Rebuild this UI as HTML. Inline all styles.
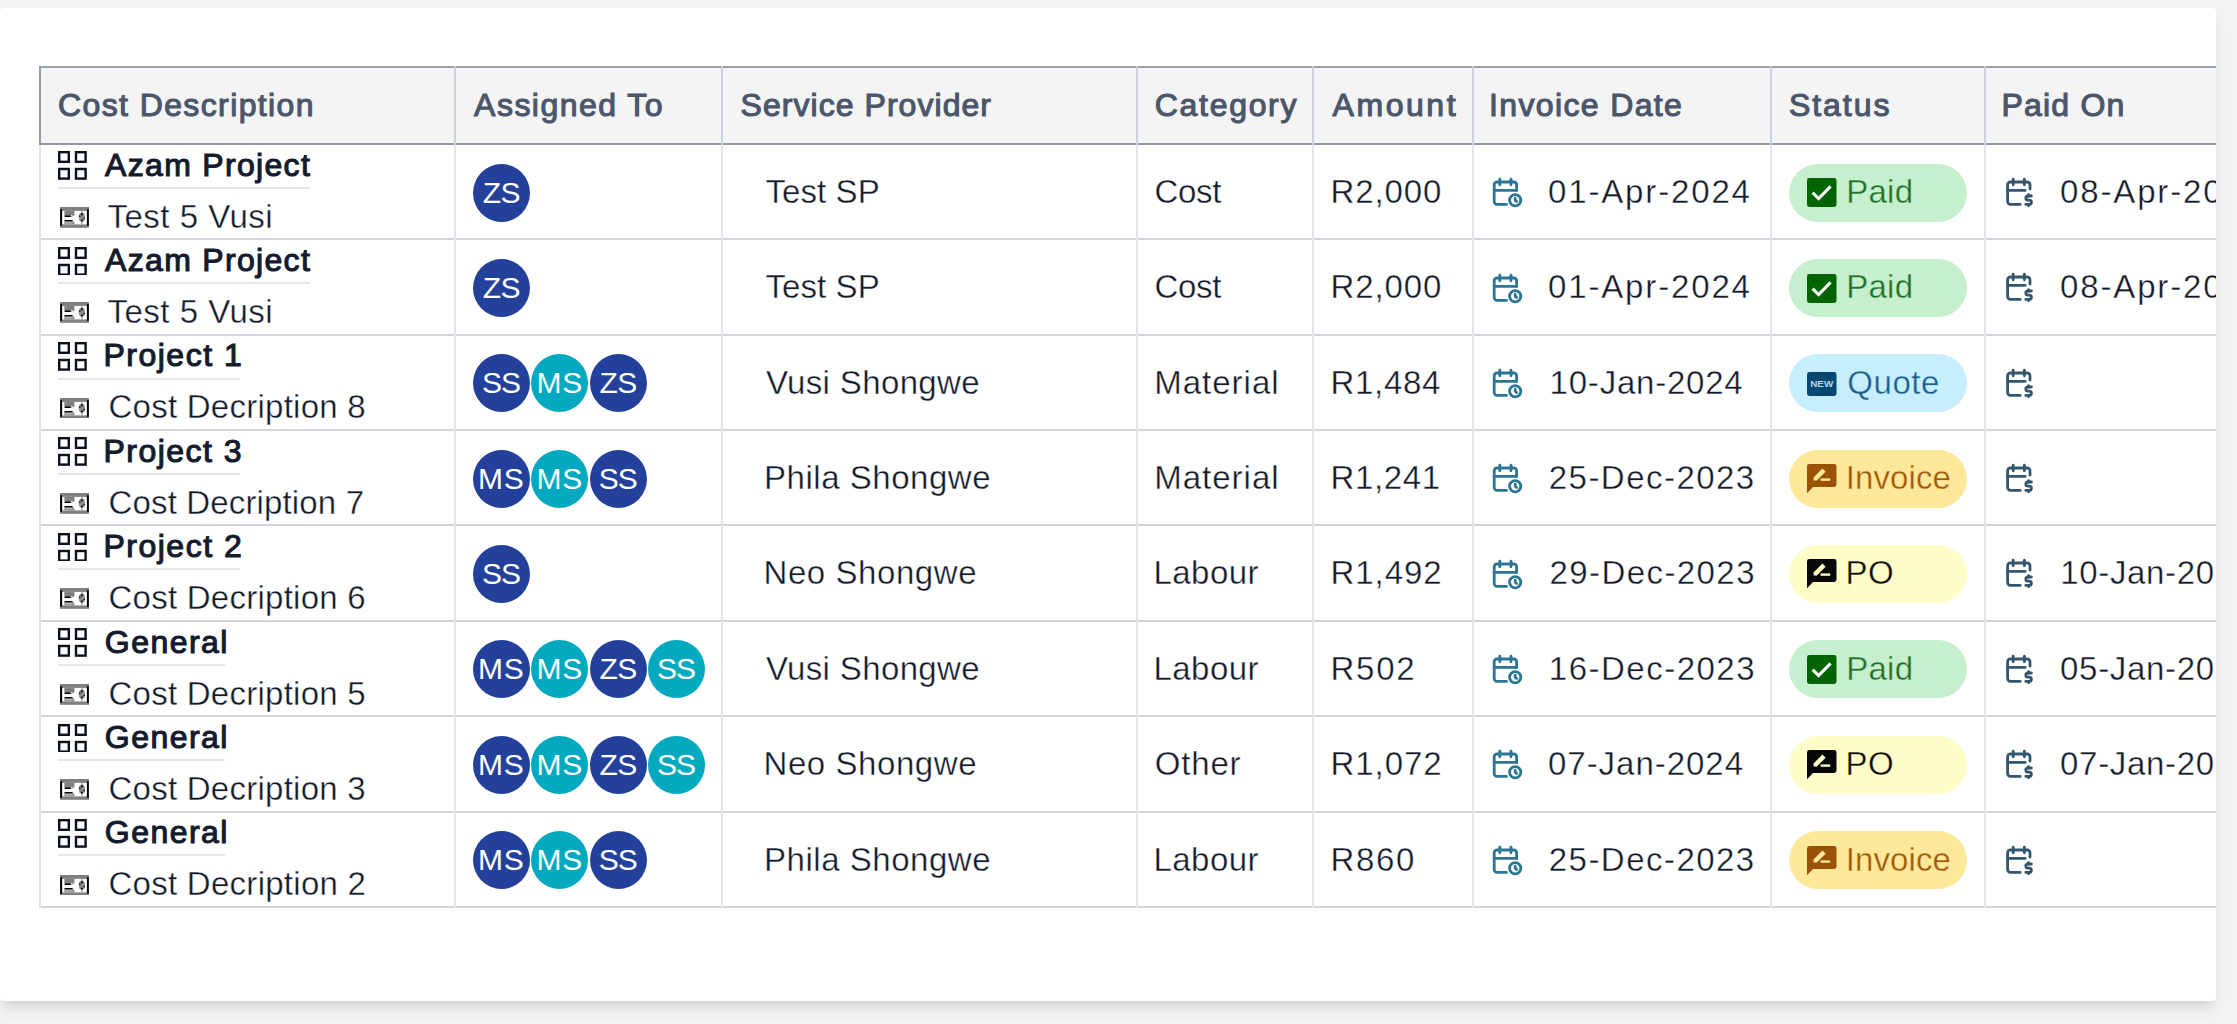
<!DOCTYPE html>
<html lang="en"><head><meta charset="utf-8"><title>Costs</title>
<style>
*{box-sizing:border-box}
html,body{margin:0;padding:0}
body{width:2237px;height:1024px;overflow:hidden;background:#f3f4f6;font-family:"Liberation Sans",sans-serif;position:relative}
.card{position:absolute;left:0;top:8px;width:2216px;height:993px;background:#fff;border-radius:4px;box-shadow:0 9.6px 14.4px -2.4px rgba(0,0,0,.1),0 4.8px 9.6px -4.8px rgba(0,0,0,.1);overflow:hidden}
.card>div,.card>span,.card>svg{position:absolute}
.hbg{left:39px;top:58px;width:2200px;height:79px;background:#f4f4f4}
.hl{left:39px;width:2200px;height:2px}
.vl{width:2px}
.t{white-space:pre;line-height:40px;font-size:33px;color:#131a2b;-webkit-text-stroke:0.35px #fff}
.th{font-size:32px;color:#4b566b;-webkit-text-stroke:1.1px #4b566b}
.tp{font-size:32px;color:#141b2d;-webkit-text-stroke:1.1px #141b2d}
.ul{height:2px;background:#e4e6eb}
.av{width:57px;height:58px;border-radius:50%}
.ta{font-size:30px;color:#fff;-webkit-text-stroke:0}
.pill{width:178px;height:58px;border-radius:29px}
</style></head><body>
<div class="card">

<div class="hbg" style="top:58px;height:79px"></div>
<div class="hl" style="top:58px;background:#99a1b1"></div>
<div class="hl" style="top:135px;background:#929aaa"></div>
<div class="hl" style="top:230px;background:#d2d5dd"></div>
<div class="hl" style="top:326px;background:#d2d5dd"></div>
<div class="hl" style="top:421px;background:#d2d5dd"></div>
<div class="hl" style="top:516px;background:#d2d5dd"></div>
<div class="hl" style="top:612px;background:#d2d5dd"></div>
<div class="hl" style="top:707px;background:#d2d5dd"></div>
<div class="hl" style="top:803px;background:#d2d5dd"></div>
<div class="hl" style="top:898px;background:#d2d5dd"></div>
<div class="vl" style="left:39px;top:58px;height:79px;background:#939bab"></div>
<div class="vl" style="left:39px;top:137px;height:763px;background:#e0e3e8"></div>
<div class="vl" style="left:454px;top:58px;height:79px;background:#ced2dc"></div>
<div class="vl" style="left:454px;top:137px;height:763px;background:#e3e5ea"></div>
<div class="vl" style="left:721px;top:58px;height:79px;background:#ced2dc"></div>
<div class="vl" style="left:721px;top:137px;height:763px;background:#e3e5ea"></div>
<div class="vl" style="left:1136px;top:58px;height:79px;background:#ced2dc"></div>
<div class="vl" style="left:1136px;top:137px;height:763px;background:#e3e5ea"></div>
<div class="vl" style="left:1312px;top:58px;height:79px;background:#ced2dc"></div>
<div class="vl" style="left:1312px;top:137px;height:763px;background:#e3e5ea"></div>
<div class="vl" style="left:1472px;top:58px;height:79px;background:#ced2dc"></div>
<div class="vl" style="left:1472px;top:137px;height:763px;background:#e3e5ea"></div>
<div class="vl" style="left:1770px;top:58px;height:79px;background:#ced2dc"></div>
<div class="vl" style="left:1770px;top:137px;height:763px;background:#e3e5ea"></div>
<div class="vl" style="left:1984px;top:58px;height:79px;background:#ced2dc"></div>
<div class="vl" style="left:1984px;top:137px;height:763px;background:#e3e5ea"></div>
<span class="t th" style="left:58.0px;top:77.0px;letter-spacing:1.39px">Cost Description</span>
<span class="t th" style="left:474.1px;top:77.0px;letter-spacing:1.47px">Assigned To</span>
<span class="t th" style="left:740.5px;top:77.0px;letter-spacing:1.05px">Service Provider</span>
<span class="t th" style="left:1154.8px;top:77.0px;letter-spacing:1.69px">Category</span>
<span class="t th" style="left:1332.6px;top:77.0px;letter-spacing:2.54px">Amount</span>
<span class="t th" style="left:1489.0px;top:77.0px;letter-spacing:1.36px">Invoice Date</span>
<span class="t th" style="left:1789.0px;top:77.0px;letter-spacing:1.94px">Status</span>
<span class="t th" style="left:2001.5px;top:77.0px;letter-spacing:1.19px">Paid On</span>
<!-- row 1 -->
<svg class="i" style="left:58.1px;top:143.3px" width="28.8" height="28.8" viewBox="0 0 12 12"><g fill="none" stroke="#0b1020" stroke-width="1"><rect x=".5" y=".5" width="4" height="4"/><rect x="7.5" y=".5" width="4" height="4"/><rect x=".5" y="7.5" width="4" height="4"/><rect x="7.5" y="7.5" width="4" height="4"/></g></svg>
<span class="t tp" style="left:105.1px;top:137.0px;letter-spacing:1.31px">Azam Project</span>
<div class="ul" style="left:58px;top:179px;width:252px"></div>
<svg class="i" style="left:60.0px;top:199.0px" width="29" height="20.8" viewBox="0 0 29 20.8"><rect x="0" y="0" width="29" height="20.8" fill="#808080"/><rect x="2.1" y="3.9" width="24.9" height="13.5" fill="#fff"/><rect x="4.4" y="3.9" width="10" height="4.2" fill="#808080"/><rect x="4.4" y="14.6" width="10" height="2.8" fill="#8c8c8c"/><rect x="5.4" y="15.3" width="7" height="1" fill="#c8c8c8"/><rect x="21.3" y="3.9" width="1.3" height="13.5" fill="#9a9a9a"/><rect x="0.2" y="2" width="1.9" height="17" rx=".9" fill="#000"/><rect x="26.9" y="2" width="1.9" height="17" rx=".9" fill="#000"/><rect x="4.4" y="8.3" width="6.6" height="1.7" rx=".8" fill="#05070d"/><path d="M10.6 9.6 L14.4 7.6 L14.4 8.6 L11 10 Z" fill="#808080"/><rect x="4.4" y="13.1" width="8.4" height="1.5" rx=".7" fill="#05070d"/><ellipse cx="21.9" cy="10.2" rx="3.1" ry="4.6" fill="#8e8e92"/><circle cx="21.9" cy="7.3" r="1.1" fill="#111"/><circle cx="21.9" cy="13.5" r="1.1" fill="#111"/><circle cx="19.8" cy="9.2" r=".9" fill="#222"/><circle cx="24.1" cy="11.6" r=".9" fill="#222"/></svg>
<span class="t " style="left:107.5px;top:189.0px;letter-spacing:0.49px">Test 5 Vusi</span>
<div class="av" style="left:472.9px;top:156px;background:#23409a"></div>
<span class="t ta" style="left:482.7px;top:165px;letter-spacing:-0.60px">ZS</span>
<span class="t " style="left:765.5px;top:164.0px;letter-spacing:0.08px">Test SP</span>
<span class="t " style="left:1154.5px;top:164.0px;letter-spacing:-0.35px">Cost</span>
<span class="t " style="left:1330.5px;top:164.0px;letter-spacing:0.91px">R2,000</span>
<svg class="i" style="left:1489.6px;top:167.2px" width="33.6" height="33.6" viewBox="0 0 24 24" fill="none" stroke="#2a7694" stroke-width="2" stroke-linecap="round" stroke-linejoin="round"><path d="M11.795 21h-6.795a2 2 0 0 1 -2 -2v-12a2 2 0 0 1 2 -2h12a2 2 0 0 1 2 2v4"/><path d="M18 18m-4 0a4 4 0 1 0 8 0a4 4 0 1 0 -8 0"/><path d="M15 3v4"/><path d="M7 3v4"/><path d="M3 11h16"/><path d="M18 16.496v1.504l1 1"/></svg>
<span class="t " style="left:1548.0px;top:164.0px;letter-spacing:1.85px">01-Apr-2024</span>
<div class="pill" style="left:1789px;top:156px;background:#c6efce"></div>
<svg class="i" style="left:1807.3px;top:170.2px" width="29.5" height="29" viewBox="0 0 29.5 29"><rect x="0" y="0" width="29.5" height="29" rx="2.4" fill="#006400"/><path d="M5.6 14.6 L11.6 20.6 L23.6 8.4" fill="none" stroke="#f4fbf4" stroke-width="3.2"/></svg>
<span class="t " style="color:#23702c;-webkit-text-stroke-color:#c6efce;left:1846.3px;top:164.0px;letter-spacing:0.22px">Paid</span>
<svg class="i" style="left:2002.2px;top:167.0px" width="33.6" height="33.6" viewBox="0 0 24 24" fill="none" stroke="#34566c" stroke-width="2" stroke-linecap="round" stroke-linejoin="round"><path d="M13 21h-7a2 2 0 0 1 -2 -2v-12a2 2 0 0 1 2 -2h12a2 2 0 0 1 2 2v3"/><path d="M16 3v4"/><path d="M8 3v4"/><path d="M4 11h12.500"/><path d="M21 15h-2.500a1.500 1.500 0 0 0 0 3h1a1.500 1.500 0 0 1 0 3h-2.500"/><path d="M19 21v1m0 -8v1"/></svg>
<span class="t " style="left:2060.1px;top:164.0px;letter-spacing:1.84px">08-Apr-2024</span>
<!-- row 2 -->
<svg class="i" style="left:58.1px;top:238.7px" width="28.8" height="28.8" viewBox="0 0 12 12"><g fill="none" stroke="#0b1020" stroke-width="1"><rect x=".5" y=".5" width="4" height="4"/><rect x="7.5" y=".5" width="4" height="4"/><rect x=".5" y="7.5" width="4" height="4"/><rect x="7.5" y="7.5" width="4" height="4"/></g></svg>
<span class="t tp" style="left:105.1px;top:232.0px;letter-spacing:1.31px">Azam Project</span>
<div class="ul" style="left:58px;top:274px;width:252px"></div>
<svg class="i" style="left:60.0px;top:294.4px" width="29" height="20.8" viewBox="0 0 29 20.8"><rect x="0" y="0" width="29" height="20.8" fill="#808080"/><rect x="2.1" y="3.9" width="24.9" height="13.5" fill="#fff"/><rect x="4.4" y="3.9" width="10" height="4.2" fill="#808080"/><rect x="4.4" y="14.6" width="10" height="2.8" fill="#8c8c8c"/><rect x="5.4" y="15.3" width="7" height="1" fill="#c8c8c8"/><rect x="21.3" y="3.9" width="1.3" height="13.5" fill="#9a9a9a"/><rect x="0.2" y="2" width="1.9" height="17" rx=".9" fill="#000"/><rect x="26.9" y="2" width="1.9" height="17" rx=".9" fill="#000"/><rect x="4.4" y="8.3" width="6.6" height="1.7" rx=".8" fill="#05070d"/><path d="M10.6 9.6 L14.4 7.6 L14.4 8.6 L11 10 Z" fill="#808080"/><rect x="4.4" y="13.1" width="8.4" height="1.5" rx=".7" fill="#05070d"/><ellipse cx="21.9" cy="10.2" rx="3.1" ry="4.6" fill="#8e8e92"/><circle cx="21.9" cy="7.3" r="1.1" fill="#111"/><circle cx="21.9" cy="13.5" r="1.1" fill="#111"/><circle cx="19.8" cy="9.2" r=".9" fill="#222"/><circle cx="24.1" cy="11.6" r=".9" fill="#222"/></svg>
<span class="t " style="left:107.5px;top:284.0px;letter-spacing:0.49px">Test 5 Vusi</span>
<div class="av" style="left:472.9px;top:251px;background:#23409a"></div>
<span class="t ta" style="left:482.7px;top:260px;letter-spacing:-0.60px">ZS</span>
<span class="t " style="left:765.5px;top:259.0px;letter-spacing:0.08px">Test SP</span>
<span class="t " style="left:1154.5px;top:259.0px;letter-spacing:-0.35px">Cost</span>
<span class="t " style="left:1330.5px;top:259.0px;letter-spacing:0.91px">R2,000</span>
<svg class="i" style="left:1489.6px;top:262.6px" width="33.6" height="33.6" viewBox="0 0 24 24" fill="none" stroke="#2a7694" stroke-width="2" stroke-linecap="round" stroke-linejoin="round"><path d="M11.795 21h-6.795a2 2 0 0 1 -2 -2v-12a2 2 0 0 1 2 -2h12a2 2 0 0 1 2 2v4"/><path d="M18 18m-4 0a4 4 0 1 0 8 0a4 4 0 1 0 -8 0"/><path d="M15 3v4"/><path d="M7 3v4"/><path d="M3 11h16"/><path d="M18 16.496v1.504l1 1"/></svg>
<span class="t " style="left:1548.0px;top:259.0px;letter-spacing:1.85px">01-Apr-2024</span>
<div class="pill" style="left:1789px;top:251px;background:#c6efce"></div>
<svg class="i" style="left:1807.3px;top:265.6px" width="29.5" height="29" viewBox="0 0 29.5 29"><rect x="0" y="0" width="29.5" height="29" rx="2.4" fill="#006400"/><path d="M5.6 14.6 L11.6 20.6 L23.6 8.4" fill="none" stroke="#f4fbf4" stroke-width="3.2"/></svg>
<span class="t " style="color:#23702c;-webkit-text-stroke-color:#c6efce;left:1846.3px;top:259.0px;letter-spacing:0.22px">Paid</span>
<svg class="i" style="left:2002.2px;top:262.4px" width="33.6" height="33.6" viewBox="0 0 24 24" fill="none" stroke="#34566c" stroke-width="2" stroke-linecap="round" stroke-linejoin="round"><path d="M13 21h-7a2 2 0 0 1 -2 -2v-12a2 2 0 0 1 2 -2h12a2 2 0 0 1 2 2v3"/><path d="M16 3v4"/><path d="M8 3v4"/><path d="M4 11h12.500"/><path d="M21 15h-2.500a1.500 1.500 0 0 0 0 3h1a1.500 1.500 0 0 1 0 3h-2.500"/><path d="M19 21v1m0 -8v1"/></svg>
<span class="t " style="left:2060.1px;top:259.0px;letter-spacing:1.84px">08-Apr-2024</span>
<!-- row 3 -->
<svg class="i" style="left:58.1px;top:334.0px" width="28.8" height="28.8" viewBox="0 0 12 12"><g fill="none" stroke="#0b1020" stroke-width="1"><rect x=".5" y=".5" width="4" height="4"/><rect x="7.5" y=".5" width="4" height="4"/><rect x=".5" y="7.5" width="4" height="4"/><rect x="7.5" y="7.5" width="4" height="4"/></g></svg>
<span class="t tp" style="left:103.5px;top:327.0px;letter-spacing:1.49px">Project 1</span>
<div class="ul" style="left:58px;top:370px;width:182px"></div>
<svg class="i" style="left:60.0px;top:389.7px" width="29" height="20.8" viewBox="0 0 29 20.8"><rect x="0" y="0" width="29" height="20.8" fill="#808080"/><rect x="2.1" y="3.9" width="24.9" height="13.5" fill="#fff"/><rect x="4.4" y="3.9" width="10" height="4.2" fill="#808080"/><rect x="4.4" y="14.6" width="10" height="2.8" fill="#8c8c8c"/><rect x="5.4" y="15.3" width="7" height="1" fill="#c8c8c8"/><rect x="21.3" y="3.9" width="1.3" height="13.5" fill="#9a9a9a"/><rect x="0.2" y="2" width="1.9" height="17" rx=".9" fill="#000"/><rect x="26.9" y="2" width="1.9" height="17" rx=".9" fill="#000"/><rect x="4.4" y="8.3" width="6.6" height="1.7" rx=".8" fill="#05070d"/><path d="M10.6 9.6 L14.4 7.6 L14.4 8.6 L11 10 Z" fill="#808080"/><rect x="4.4" y="13.1" width="8.4" height="1.5" rx=".7" fill="#05070d"/><ellipse cx="21.9" cy="10.2" rx="3.1" ry="4.6" fill="#8e8e92"/><circle cx="21.9" cy="7.3" r="1.1" fill="#111"/><circle cx="21.9" cy="13.5" r="1.1" fill="#111"/><circle cx="19.8" cy="9.2" r=".9" fill="#222"/><circle cx="24.1" cy="11.6" r=".9" fill="#222"/></svg>
<span class="t " style="left:108.5px;top:379.0px;letter-spacing:0.25px">Cost Decription 8</span>
<div class="av" style="left:472.9px;top:346px;background:#23409a"></div>
<span class="t ta" style="left:481.9px;top:355px;letter-spacing:-1.00px">SS</span>
<div class="av" style="left:531.3px;top:346px;background:#03a9bf"></div>
<span class="t ta" style="left:536.4px;top:355px;letter-spacing:0.80px">MS</span>
<div class="av" style="left:589.7px;top:346px;background:#23409a"></div>
<span class="t ta" style="left:599.5px;top:355px;letter-spacing:-0.60px">ZS</span>
<span class="t " style="left:765.9px;top:355.0px;letter-spacing:0.36px">Vusi Shongwe</span>
<span class="t " style="left:1154.2px;top:355.0px;letter-spacing:1.01px">Material</span>
<span class="t " style="left:1330.5px;top:355.0px;letter-spacing:0.71px">R1,484</span>
<svg class="i" style="left:1489.6px;top:357.9px" width="33.6" height="33.6" viewBox="0 0 24 24" fill="none" stroke="#2a7694" stroke-width="2" stroke-linecap="round" stroke-linejoin="round"><path d="M11.795 21h-6.795a2 2 0 0 1 -2 -2v-12a2 2 0 0 1 2 -2h12a2 2 0 0 1 2 2v4"/><path d="M18 18m-4 0a4 4 0 1 0 8 0a4 4 0 1 0 -8 0"/><path d="M15 3v4"/><path d="M7 3v4"/><path d="M3 11h16"/><path d="M18 16.496v1.504l1 1"/></svg>
<span class="t " style="left:1549.6px;top:355.0px;letter-spacing:0.78px">10-Jan-2024</span>
<div class="pill" style="left:1789px;top:346px;background:#c7eeff"></div>
<svg class="i" style="left:1807.3px;top:363.5px" width="29.5" height="24" viewBox="0 0 29.5 24"><rect x="0" y="0" width="29.5" height="24" rx="2.4" fill="#044a70"/><text x="14.75" y="15.4" text-anchor="middle" font-family="Liberation Sans, sans-serif" font-weight="700" font-size="9.5" fill="#b9d7e6" textLength="23" lengthAdjust="spacingAndGlyphs">NEW</text></svg>
<span class="t " style="color:#1d5f8c;-webkit-text-stroke-color:#c7eeff;left:1847.3px;top:355.0px;letter-spacing:0.55px">Quote</span>
<svg class="i" style="left:2002.2px;top:357.7px" width="33.6" height="33.6" viewBox="0 0 24 24" fill="none" stroke="#34566c" stroke-width="2" stroke-linecap="round" stroke-linejoin="round"><path d="M13 21h-7a2 2 0 0 1 -2 -2v-12a2 2 0 0 1 2 -2h12a2 2 0 0 1 2 2v3"/><path d="M16 3v4"/><path d="M8 3v4"/><path d="M4 11h12.500"/><path d="M21 15h-2.500a1.500 1.500 0 0 0 0 3h1a1.500 1.500 0 0 1 0 3h-2.500"/><path d="M19 21v1m0 -8v1"/></svg>
<!-- row 4 -->
<svg class="i" style="left:58.1px;top:429.4px" width="28.8" height="28.8" viewBox="0 0 12 12"><g fill="none" stroke="#0b1020" stroke-width="1"><rect x=".5" y=".5" width="4" height="4"/><rect x="7.5" y=".5" width="4" height="4"/><rect x=".5" y="7.5" width="4" height="4"/><rect x="7.5" y="7.5" width="4" height="4"/></g></svg>
<span class="t tp" style="left:103.5px;top:423.0px;letter-spacing:1.46px">Project 3</span>
<div class="ul" style="left:58px;top:465px;width:182px"></div>
<svg class="i" style="left:60.0px;top:485.1px" width="29" height="20.8" viewBox="0 0 29 20.8"><rect x="0" y="0" width="29" height="20.8" fill="#808080"/><rect x="2.1" y="3.9" width="24.9" height="13.5" fill="#fff"/><rect x="4.4" y="3.9" width="10" height="4.2" fill="#808080"/><rect x="4.4" y="14.6" width="10" height="2.8" fill="#8c8c8c"/><rect x="5.4" y="15.3" width="7" height="1" fill="#c8c8c8"/><rect x="21.3" y="3.9" width="1.3" height="13.5" fill="#9a9a9a"/><rect x="0.2" y="2" width="1.9" height="17" rx=".9" fill="#000"/><rect x="26.9" y="2" width="1.9" height="17" rx=".9" fill="#000"/><rect x="4.4" y="8.3" width="6.6" height="1.7" rx=".8" fill="#05070d"/><path d="M10.6 9.6 L14.4 7.6 L14.4 8.6 L11 10 Z" fill="#808080"/><rect x="4.4" y="13.1" width="8.4" height="1.5" rx=".7" fill="#05070d"/><ellipse cx="21.9" cy="10.2" rx="3.1" ry="4.6" fill="#8e8e92"/><circle cx="21.9" cy="7.3" r="1.1" fill="#111"/><circle cx="21.9" cy="13.5" r="1.1" fill="#111"/><circle cx="19.8" cy="9.2" r=".9" fill="#222"/><circle cx="24.1" cy="11.6" r=".9" fill="#222"/></svg>
<span class="t " style="left:108.5px;top:475.0px;letter-spacing:0.15px">Cost Decription 7</span>
<div class="av" style="left:472.9px;top:442px;background:#23409a"></div>
<span class="t ta" style="left:478.0px;top:451px;letter-spacing:0.80px">MS</span>
<div class="av" style="left:531.3px;top:442px;background:#03a9bf"></div>
<span class="t ta" style="left:536.4px;top:451px;letter-spacing:0.80px">MS</span>
<div class="av" style="left:589.7px;top:442px;background:#23409a"></div>
<span class="t ta" style="left:598.7px;top:451px;letter-spacing:-1.00px">SS</span>
<span class="t " style="left:764.0px;top:450.0px;letter-spacing:0.53px">Phila Shongwe</span>
<span class="t " style="left:1154.2px;top:450.0px;letter-spacing:1.01px">Material</span>
<span class="t " style="left:1330.5px;top:450.0px;letter-spacing:0.64px">R1,241</span>
<svg class="i" style="left:1489.6px;top:453.3px" width="33.6" height="33.6" viewBox="0 0 24 24" fill="none" stroke="#2a7694" stroke-width="2" stroke-linecap="round" stroke-linejoin="round"><path d="M11.795 21h-6.795a2 2 0 0 1 -2 -2v-12a2 2 0 0 1 2 -2h12a2 2 0 0 1 2 2v4"/><path d="M18 18m-4 0a4 4 0 1 0 8 0a4 4 0 1 0 -8 0"/><path d="M15 3v4"/><path d="M7 3v4"/><path d="M3 11h16"/><path d="M18 16.496v1.504l1 1"/></svg>
<span class="t " style="left:1548.8px;top:450.0px;letter-spacing:1.46px">25-Dec-2023</span>
<div class="pill" style="left:1789px;top:442px;background:#fee99b"></div>
<svg class="i" style="left:1807.3px;top:456.1px" width="29.5" height="29.5" viewBox="0 0 29.5 29.5"><path d="M2.4 0 H27.1 A2.4 2.4 0 0 1 29.5 2.4 V20.6 A2.4 2.4 0 0 1 27.1 23 H6 L0 29.2 V2.4 A2.4 2.4 0 0 1 2.4 0 Z" fill="#9a5206"/><path d="M6.6 16.6 V13.4 L15.4 4.6 L18.6 7.8 L9.8 16.6 Z" fill="#fee99b"/><rect x="13.6" y="14.4" width="9.6" height="2.4" fill="#fee99b"/></svg>
<span class="t " style="color:#a2560a;-webkit-text-stroke-color:#fee99b;left:1845.8px;top:450.0px;letter-spacing:0.08px">Invoice</span>
<svg class="i" style="left:2002.2px;top:453.1px" width="33.6" height="33.6" viewBox="0 0 24 24" fill="none" stroke="#34566c" stroke-width="2" stroke-linecap="round" stroke-linejoin="round"><path d="M13 21h-7a2 2 0 0 1 -2 -2v-12a2 2 0 0 1 2 -2h12a2 2 0 0 1 2 2v3"/><path d="M16 3v4"/><path d="M8 3v4"/><path d="M4 11h12.500"/><path d="M21 15h-2.500a1.500 1.500 0 0 0 0 3h1a1.500 1.500 0 0 1 0 3h-2.500"/><path d="M19 21v1m0 -8v1"/></svg>
<!-- row 5 -->
<svg class="i" style="left:58.1px;top:524.7px" width="28.8" height="28.8" viewBox="0 0 12 12"><g fill="none" stroke="#0b1020" stroke-width="1"><rect x=".5" y=".5" width="4" height="4"/><rect x="7.5" y=".5" width="4" height="4"/><rect x=".5" y="7.5" width="4" height="4"/><rect x="7.5" y="7.5" width="4" height="4"/></g></svg>
<span class="t tp" style="left:103.5px;top:518.0px;letter-spacing:1.49px">Project 2</span>
<div class="ul" style="left:58px;top:560px;width:182px"></div>
<svg class="i" style="left:60.0px;top:580.4px" width="29" height="20.8" viewBox="0 0 29 20.8"><rect x="0" y="0" width="29" height="20.8" fill="#808080"/><rect x="2.1" y="3.9" width="24.9" height="13.5" fill="#fff"/><rect x="4.4" y="3.9" width="10" height="4.2" fill="#808080"/><rect x="4.4" y="14.6" width="10" height="2.8" fill="#8c8c8c"/><rect x="5.4" y="15.3" width="7" height="1" fill="#c8c8c8"/><rect x="21.3" y="3.9" width="1.3" height="13.5" fill="#9a9a9a"/><rect x="0.2" y="2" width="1.9" height="17" rx=".9" fill="#000"/><rect x="26.9" y="2" width="1.9" height="17" rx=".9" fill="#000"/><rect x="4.4" y="8.3" width="6.6" height="1.7" rx=".8" fill="#05070d"/><path d="M10.6 9.6 L14.4 7.6 L14.4 8.6 L11 10 Z" fill="#808080"/><rect x="4.4" y="13.1" width="8.4" height="1.5" rx=".7" fill="#05070d"/><ellipse cx="21.9" cy="10.2" rx="3.1" ry="4.6" fill="#8e8e92"/><circle cx="21.9" cy="7.3" r="1.1" fill="#111"/><circle cx="21.9" cy="13.5" r="1.1" fill="#111"/><circle cx="19.8" cy="9.2" r=".9" fill="#222"/><circle cx="24.1" cy="11.6" r=".9" fill="#222"/></svg>
<span class="t " style="left:108.5px;top:570.0px;letter-spacing:0.25px">Cost Decription 6</span>
<div class="av" style="left:472.9px;top:537px;background:#23409a"></div>
<span class="t ta" style="left:481.9px;top:546px;letter-spacing:-1.00px">SS</span>
<span class="t " style="left:763.5px;top:545.0px;letter-spacing:0.57px">Neo Shongwe</span>
<span class="t " style="left:1153.5px;top:545.0px;letter-spacing:0.44px">Labour</span>
<span class="t " style="left:1330.5px;top:545.0px;letter-spacing:0.96px">R1,492</span>
<svg class="i" style="left:1489.6px;top:548.6px" width="33.6" height="33.6" viewBox="0 0 24 24" fill="none" stroke="#2a7694" stroke-width="2" stroke-linecap="round" stroke-linejoin="round"><path d="M11.795 21h-6.795a2 2 0 0 1 -2 -2v-12a2 2 0 0 1 2 -2h12a2 2 0 0 1 2 2v4"/><path d="M18 18m-4 0a4 4 0 1 0 8 0a4 4 0 1 0 -8 0"/><path d="M15 3v4"/><path d="M7 3v4"/><path d="M3 11h16"/><path d="M18 16.496v1.504l1 1"/></svg>
<span class="t " style="left:1549.5px;top:545.0px;letter-spacing:1.42px">29-Dec-2023</span>
<div class="pill" style="left:1789px;top:537px;background:#fffdc8"></div>
<svg class="i" style="left:1807.3px;top:551.4px" width="29.5" height="29.5" viewBox="0 0 29.5 29.5"><path d="M2.4 0 H27.1 A2.4 2.4 0 0 1 29.5 2.4 V20.6 A2.4 2.4 0 0 1 27.1 23 H6 L0 29.2 V2.4 A2.4 2.4 0 0 1 2.4 0 Z" fill="#070707"/><path d="M6.6 16.6 V13.4 L15.4 4.6 L18.6 7.8 L9.8 16.6 Z" fill="#fffdc8"/><rect x="13.6" y="14.4" width="9.6" height="2.4" fill="#fffdc8"/></svg>
<span class="t " style="color:#0c0c0c;-webkit-text-stroke-color:#fffdc8;left:1845.5px;top:545.0px;letter-spacing:0.45px">PO</span>
<svg class="i" style="left:2002.2px;top:548.4px" width="33.6" height="33.6" viewBox="0 0 24 24" fill="none" stroke="#34566c" stroke-width="2" stroke-linecap="round" stroke-linejoin="round"><path d="M13 21h-7a2 2 0 0 1 -2 -2v-12a2 2 0 0 1 2 -2h12a2 2 0 0 1 2 2v3"/><path d="M16 3v4"/><path d="M8 3v4"/><path d="M4 11h12.500"/><path d="M21 15h-2.500a1.500 1.500 0 0 0 0 3h1a1.500 1.500 0 0 1 0 3h-2.500"/><path d="M19 21v1m0 -8v1"/></svg>
<span class="t " style="left:2060.3px;top:545.0px;letter-spacing:0.64px">10-Jan-2024</span>
<!-- row 6 -->
<svg class="i" style="left:58.1px;top:620.1px" width="28.8" height="28.8" viewBox="0 0 12 12"><g fill="none" stroke="#0b1020" stroke-width="1"><rect x=".5" y=".5" width="4" height="4"/><rect x="7.5" y=".5" width="4" height="4"/><rect x=".5" y="7.5" width="4" height="4"/><rect x="7.5" y="7.5" width="4" height="4"/></g></svg>
<span class="t tp" style="left:104.8px;top:614.0px;letter-spacing:1.46px">General</span>
<div class="ul" style="left:58px;top:656px;width:167px"></div>
<svg class="i" style="left:60.0px;top:675.8px" width="29" height="20.8" viewBox="0 0 29 20.8"><rect x="0" y="0" width="29" height="20.8" fill="#808080"/><rect x="2.1" y="3.9" width="24.9" height="13.5" fill="#fff"/><rect x="4.4" y="3.9" width="10" height="4.2" fill="#808080"/><rect x="4.4" y="14.6" width="10" height="2.8" fill="#8c8c8c"/><rect x="5.4" y="15.3" width="7" height="1" fill="#c8c8c8"/><rect x="21.3" y="3.9" width="1.3" height="13.5" fill="#9a9a9a"/><rect x="0.2" y="2" width="1.9" height="17" rx=".9" fill="#000"/><rect x="26.9" y="2" width="1.9" height="17" rx=".9" fill="#000"/><rect x="4.4" y="8.3" width="6.6" height="1.7" rx=".8" fill="#05070d"/><path d="M10.6 9.6 L14.4 7.6 L14.4 8.6 L11 10 Z" fill="#808080"/><rect x="4.4" y="13.1" width="8.4" height="1.5" rx=".7" fill="#05070d"/><ellipse cx="21.9" cy="10.2" rx="3.1" ry="4.6" fill="#8e8e92"/><circle cx="21.9" cy="7.3" r="1.1" fill="#111"/><circle cx="21.9" cy="13.5" r="1.1" fill="#111"/><circle cx="19.8" cy="9.2" r=".9" fill="#222"/><circle cx="24.1" cy="11.6" r=".9" fill="#222"/></svg>
<span class="t " style="left:108.5px;top:666.0px;letter-spacing:0.25px">Cost Decription 5</span>
<div class="av" style="left:472.9px;top:632px;background:#23409a"></div>
<span class="t ta" style="left:478.0px;top:641px;letter-spacing:0.80px">MS</span>
<div class="av" style="left:531.3px;top:632px;background:#03a9bf"></div>
<span class="t ta" style="left:536.4px;top:641px;letter-spacing:0.80px">MS</span>
<div class="av" style="left:589.7px;top:632px;background:#23409a"></div>
<span class="t ta" style="left:599.5px;top:641px;letter-spacing:-0.60px">ZS</span>
<div class="av" style="left:648.1px;top:632px;background:#03a9bf"></div>
<span class="t ta" style="left:657.1px;top:641px;letter-spacing:-1.00px">SS</span>
<span class="t " style="left:765.9px;top:641.0px;letter-spacing:0.36px">Vusi Shongwe</span>
<span class="t " style="left:1153.5px;top:641.0px;letter-spacing:0.44px">Labour</span>
<span class="t " style="left:1330.5px;top:641.0px;letter-spacing:1.77px">R502</span>
<svg class="i" style="left:1489.6px;top:644.0px" width="33.6" height="33.6" viewBox="0 0 24 24" fill="none" stroke="#2a7694" stroke-width="2" stroke-linecap="round" stroke-linejoin="round"><path d="M11.795 21h-6.795a2 2 0 0 1 -2 -2v-12a2 2 0 0 1 2 -2h12a2 2 0 0 1 2 2v4"/><path d="M18 18m-4 0a4 4 0 1 0 8 0a4 4 0 1 0 -8 0"/><path d="M15 3v4"/><path d="M7 3v4"/><path d="M3 11h16"/><path d="M18 16.496v1.504l1 1"/></svg>
<span class="t " style="left:1548.8px;top:641.0px;letter-spacing:1.50px">16-Dec-2023</span>
<div class="pill" style="left:1789px;top:632px;background:#c6efce"></div>
<svg class="i" style="left:1807.3px;top:647.0px" width="29.5" height="29" viewBox="0 0 29.5 29"><rect x="0" y="0" width="29.5" height="29" rx="2.4" fill="#006400"/><path d="M5.6 14.6 L11.6 20.6 L23.6 8.4" fill="none" stroke="#f4fbf4" stroke-width="3.2"/></svg>
<span class="t " style="color:#23702c;-webkit-text-stroke-color:#c6efce;left:1846.3px;top:641.0px;letter-spacing:0.22px">Paid</span>
<svg class="i" style="left:2002.2px;top:643.8px" width="33.6" height="33.6" viewBox="0 0 24 24" fill="none" stroke="#34566c" stroke-width="2" stroke-linecap="round" stroke-linejoin="round"><path d="M13 21h-7a2 2 0 0 1 -2 -2v-12a2 2 0 0 1 2 -2h12a2 2 0 0 1 2 2v3"/><path d="M16 3v4"/><path d="M8 3v4"/><path d="M4 11h12.500"/><path d="M21 15h-2.500a1.500 1.500 0 0 0 0 3h1a1.500 1.500 0 0 1 0 3h-2.500"/><path d="M19 21v1m0 -8v1"/></svg>
<span class="t " style="left:2060.1px;top:641.0px;letter-spacing:0.67px">05-Jan-2024</span>
<!-- row 7 -->
<svg class="i" style="left:58.1px;top:715.5px" width="28.8" height="28.8" viewBox="0 0 12 12"><g fill="none" stroke="#0b1020" stroke-width="1"><rect x=".5" y=".5" width="4" height="4"/><rect x="7.5" y=".5" width="4" height="4"/><rect x=".5" y="7.5" width="4" height="4"/><rect x="7.5" y="7.5" width="4" height="4"/></g></svg>
<span class="t tp" style="left:104.8px;top:709.0px;letter-spacing:1.46px">General</span>
<div class="ul" style="left:58px;top:751px;width:167px"></div>
<svg class="i" style="left:60.0px;top:771.2px" width="29" height="20.8" viewBox="0 0 29 20.8"><rect x="0" y="0" width="29" height="20.8" fill="#808080"/><rect x="2.1" y="3.9" width="24.9" height="13.5" fill="#fff"/><rect x="4.4" y="3.9" width="10" height="4.2" fill="#808080"/><rect x="4.4" y="14.6" width="10" height="2.8" fill="#8c8c8c"/><rect x="5.4" y="15.3" width="7" height="1" fill="#c8c8c8"/><rect x="21.3" y="3.9" width="1.3" height="13.5" fill="#9a9a9a"/><rect x="0.2" y="2" width="1.9" height="17" rx=".9" fill="#000"/><rect x="26.9" y="2" width="1.9" height="17" rx=".9" fill="#000"/><rect x="4.4" y="8.3" width="6.6" height="1.7" rx=".8" fill="#05070d"/><path d="M10.6 9.6 L14.4 7.6 L14.4 8.6 L11 10 Z" fill="#808080"/><rect x="4.4" y="13.1" width="8.4" height="1.5" rx=".7" fill="#05070d"/><ellipse cx="21.9" cy="10.2" rx="3.1" ry="4.6" fill="#8e8e92"/><circle cx="21.9" cy="7.3" r="1.1" fill="#111"/><circle cx="21.9" cy="13.5" r="1.1" fill="#111"/><circle cx="19.8" cy="9.2" r=".9" fill="#222"/><circle cx="24.1" cy="11.6" r=".9" fill="#222"/></svg>
<span class="t " style="left:108.5px;top:761.0px;letter-spacing:0.25px">Cost Decription 3</span>
<div class="av" style="left:472.9px;top:728px;background:#23409a"></div>
<span class="t ta" style="left:478.0px;top:737px;letter-spacing:0.80px">MS</span>
<div class="av" style="left:531.3px;top:728px;background:#03a9bf"></div>
<span class="t ta" style="left:536.4px;top:737px;letter-spacing:0.80px">MS</span>
<div class="av" style="left:589.7px;top:728px;background:#23409a"></div>
<span class="t ta" style="left:599.5px;top:737px;letter-spacing:-0.60px">ZS</span>
<div class="av" style="left:648.1px;top:728px;background:#03a9bf"></div>
<span class="t ta" style="left:657.1px;top:737px;letter-spacing:-1.00px">SS</span>
<span class="t " style="left:763.5px;top:736.0px;letter-spacing:0.57px">Neo Shongwe</span>
<span class="t " style="left:1154.8px;top:736.0px;letter-spacing:0.80px">Other</span>
<span class="t " style="left:1330.5px;top:736.0px;letter-spacing:0.96px">R1,072</span>
<svg class="i" style="left:1489.6px;top:739.4px" width="33.6" height="33.6" viewBox="0 0 24 24" fill="none" stroke="#2a7694" stroke-width="2" stroke-linecap="round" stroke-linejoin="round"><path d="M11.795 21h-6.795a2 2 0 0 1 -2 -2v-12a2 2 0 0 1 2 -2h12a2 2 0 0 1 2 2v4"/><path d="M18 18m-4 0a4 4 0 1 0 8 0a4 4 0 1 0 -8 0"/><path d="M15 3v4"/><path d="M7 3v4"/><path d="M3 11h16"/><path d="M18 16.496v1.504l1 1"/></svg>
<span class="t " style="left:1548.0px;top:736.0px;letter-spacing:0.97px">07-Jan-2024</span>
<div class="pill" style="left:1789px;top:728px;background:#fffdc8"></div>
<svg class="i" style="left:1807.3px;top:742.2px" width="29.5" height="29.5" viewBox="0 0 29.5 29.5"><path d="M2.4 0 H27.1 A2.4 2.4 0 0 1 29.5 2.4 V20.6 A2.4 2.4 0 0 1 27.1 23 H6 L0 29.2 V2.4 A2.4 2.4 0 0 1 2.4 0 Z" fill="#070707"/><path d="M6.6 16.6 V13.4 L15.4 4.6 L18.6 7.8 L9.8 16.6 Z" fill="#fffdc8"/><rect x="13.6" y="14.4" width="9.6" height="2.4" fill="#fffdc8"/></svg>
<span class="t " style="color:#0c0c0c;-webkit-text-stroke-color:#fffdc8;left:1845.5px;top:736.0px;letter-spacing:0.45px">PO</span>
<svg class="i" style="left:2002.2px;top:739.2px" width="33.6" height="33.6" viewBox="0 0 24 24" fill="none" stroke="#34566c" stroke-width="2" stroke-linecap="round" stroke-linejoin="round"><path d="M13 21h-7a2 2 0 0 1 -2 -2v-12a2 2 0 0 1 2 -2h12a2 2 0 0 1 2 2v3"/><path d="M16 3v4"/><path d="M8 3v4"/><path d="M4 11h12.500"/><path d="M21 15h-2.500a1.500 1.500 0 0 0 0 3h1a1.500 1.500 0 0 1 0 3h-2.500"/><path d="M19 21v1m0 -8v1"/></svg>
<span class="t " style="left:2060.1px;top:736.0px;letter-spacing:0.67px">07-Jan-2024</span>
<!-- row 8 -->
<svg class="i" style="left:58.1px;top:810.8px" width="28.8" height="28.8" viewBox="0 0 12 12"><g fill="none" stroke="#0b1020" stroke-width="1"><rect x=".5" y=".5" width="4" height="4"/><rect x="7.5" y=".5" width="4" height="4"/><rect x=".5" y="7.5" width="4" height="4"/><rect x="7.5" y="7.5" width="4" height="4"/></g></svg>
<span class="t tp" style="left:104.8px;top:804.0px;letter-spacing:1.46px">General</span>
<div class="ul" style="left:58px;top:846px;width:167px"></div>
<svg class="i" style="left:60.0px;top:866.5px" width="29" height="20.8" viewBox="0 0 29 20.8"><rect x="0" y="0" width="29" height="20.8" fill="#808080"/><rect x="2.1" y="3.9" width="24.9" height="13.5" fill="#fff"/><rect x="4.4" y="3.9" width="10" height="4.2" fill="#808080"/><rect x="4.4" y="14.6" width="10" height="2.8" fill="#8c8c8c"/><rect x="5.4" y="15.3" width="7" height="1" fill="#c8c8c8"/><rect x="21.3" y="3.9" width="1.3" height="13.5" fill="#9a9a9a"/><rect x="0.2" y="2" width="1.9" height="17" rx=".9" fill="#000"/><rect x="26.9" y="2" width="1.9" height="17" rx=".9" fill="#000"/><rect x="4.4" y="8.3" width="6.6" height="1.7" rx=".8" fill="#05070d"/><path d="M10.6 9.6 L14.4 7.6 L14.4 8.6 L11 10 Z" fill="#808080"/><rect x="4.4" y="13.1" width="8.4" height="1.5" rx=".7" fill="#05070d"/><ellipse cx="21.9" cy="10.2" rx="3.1" ry="4.6" fill="#8e8e92"/><circle cx="21.9" cy="7.3" r="1.1" fill="#111"/><circle cx="21.9" cy="13.5" r="1.1" fill="#111"/><circle cx="19.8" cy="9.2" r=".9" fill="#222"/><circle cx="24.1" cy="11.6" r=".9" fill="#222"/></svg>
<span class="t " style="left:108.5px;top:856.0px;letter-spacing:0.27px">Cost Decription 2</span>
<div class="av" style="left:472.9px;top:823px;background:#23409a"></div>
<span class="t ta" style="left:478.0px;top:832px;letter-spacing:0.80px">MS</span>
<div class="av" style="left:531.3px;top:823px;background:#03a9bf"></div>
<span class="t ta" style="left:536.4px;top:832px;letter-spacing:0.80px">MS</span>
<div class="av" style="left:589.7px;top:823px;background:#23409a"></div>
<span class="t ta" style="left:598.7px;top:832px;letter-spacing:-1.00px">SS</span>
<span class="t " style="left:764.0px;top:832.0px;letter-spacing:0.53px">Phila Shongwe</span>
<span class="t " style="left:1153.5px;top:832.0px;letter-spacing:0.44px">Labour</span>
<span class="t " style="left:1330.5px;top:832.0px;letter-spacing:1.68px">R860</span>
<svg class="i" style="left:1489.6px;top:834.7px" width="33.6" height="33.6" viewBox="0 0 24 24" fill="none" stroke="#2a7694" stroke-width="2" stroke-linecap="round" stroke-linejoin="round"><path d="M11.795 21h-6.795a2 2 0 0 1 -2 -2v-12a2 2 0 0 1 2 -2h12a2 2 0 0 1 2 2v4"/><path d="M18 18m-4 0a4 4 0 1 0 8 0a4 4 0 1 0 -8 0"/><path d="M15 3v4"/><path d="M7 3v4"/><path d="M3 11h16"/><path d="M18 16.496v1.504l1 1"/></svg>
<span class="t " style="left:1548.8px;top:832.0px;letter-spacing:1.46px">25-Dec-2023</span>
<div class="pill" style="left:1789px;top:823px;background:#fee99b"></div>
<svg class="i" style="left:1807.3px;top:837.5px" width="29.5" height="29.5" viewBox="0 0 29.5 29.5"><path d="M2.4 0 H27.1 A2.4 2.4 0 0 1 29.5 2.4 V20.6 A2.4 2.4 0 0 1 27.1 23 H6 L0 29.2 V2.4 A2.4 2.4 0 0 1 2.4 0 Z" fill="#9a5206"/><path d="M6.6 16.6 V13.4 L15.4 4.6 L18.6 7.8 L9.8 16.6 Z" fill="#fee99b"/><rect x="13.6" y="14.4" width="9.6" height="2.4" fill="#fee99b"/></svg>
<span class="t " style="color:#a2560a;-webkit-text-stroke-color:#fee99b;left:1845.8px;top:832.0px;letter-spacing:0.08px">Invoice</span>
<svg class="i" style="left:2002.2px;top:834.5px" width="33.6" height="33.6" viewBox="0 0 24 24" fill="none" stroke="#34566c" stroke-width="2" stroke-linecap="round" stroke-linejoin="round"><path d="M13 21h-7a2 2 0 0 1 -2 -2v-12a2 2 0 0 1 2 -2h12a2 2 0 0 1 2 2v3"/><path d="M16 3v4"/><path d="M8 3v4"/><path d="M4 11h12.500"/><path d="M21 15h-2.500a1.500 1.500 0 0 0 0 3h1a1.500 1.500 0 0 1 0 3h-2.500"/><path d="M19 21v1m0 -8v1"/></svg>
</div>
</body></html>
